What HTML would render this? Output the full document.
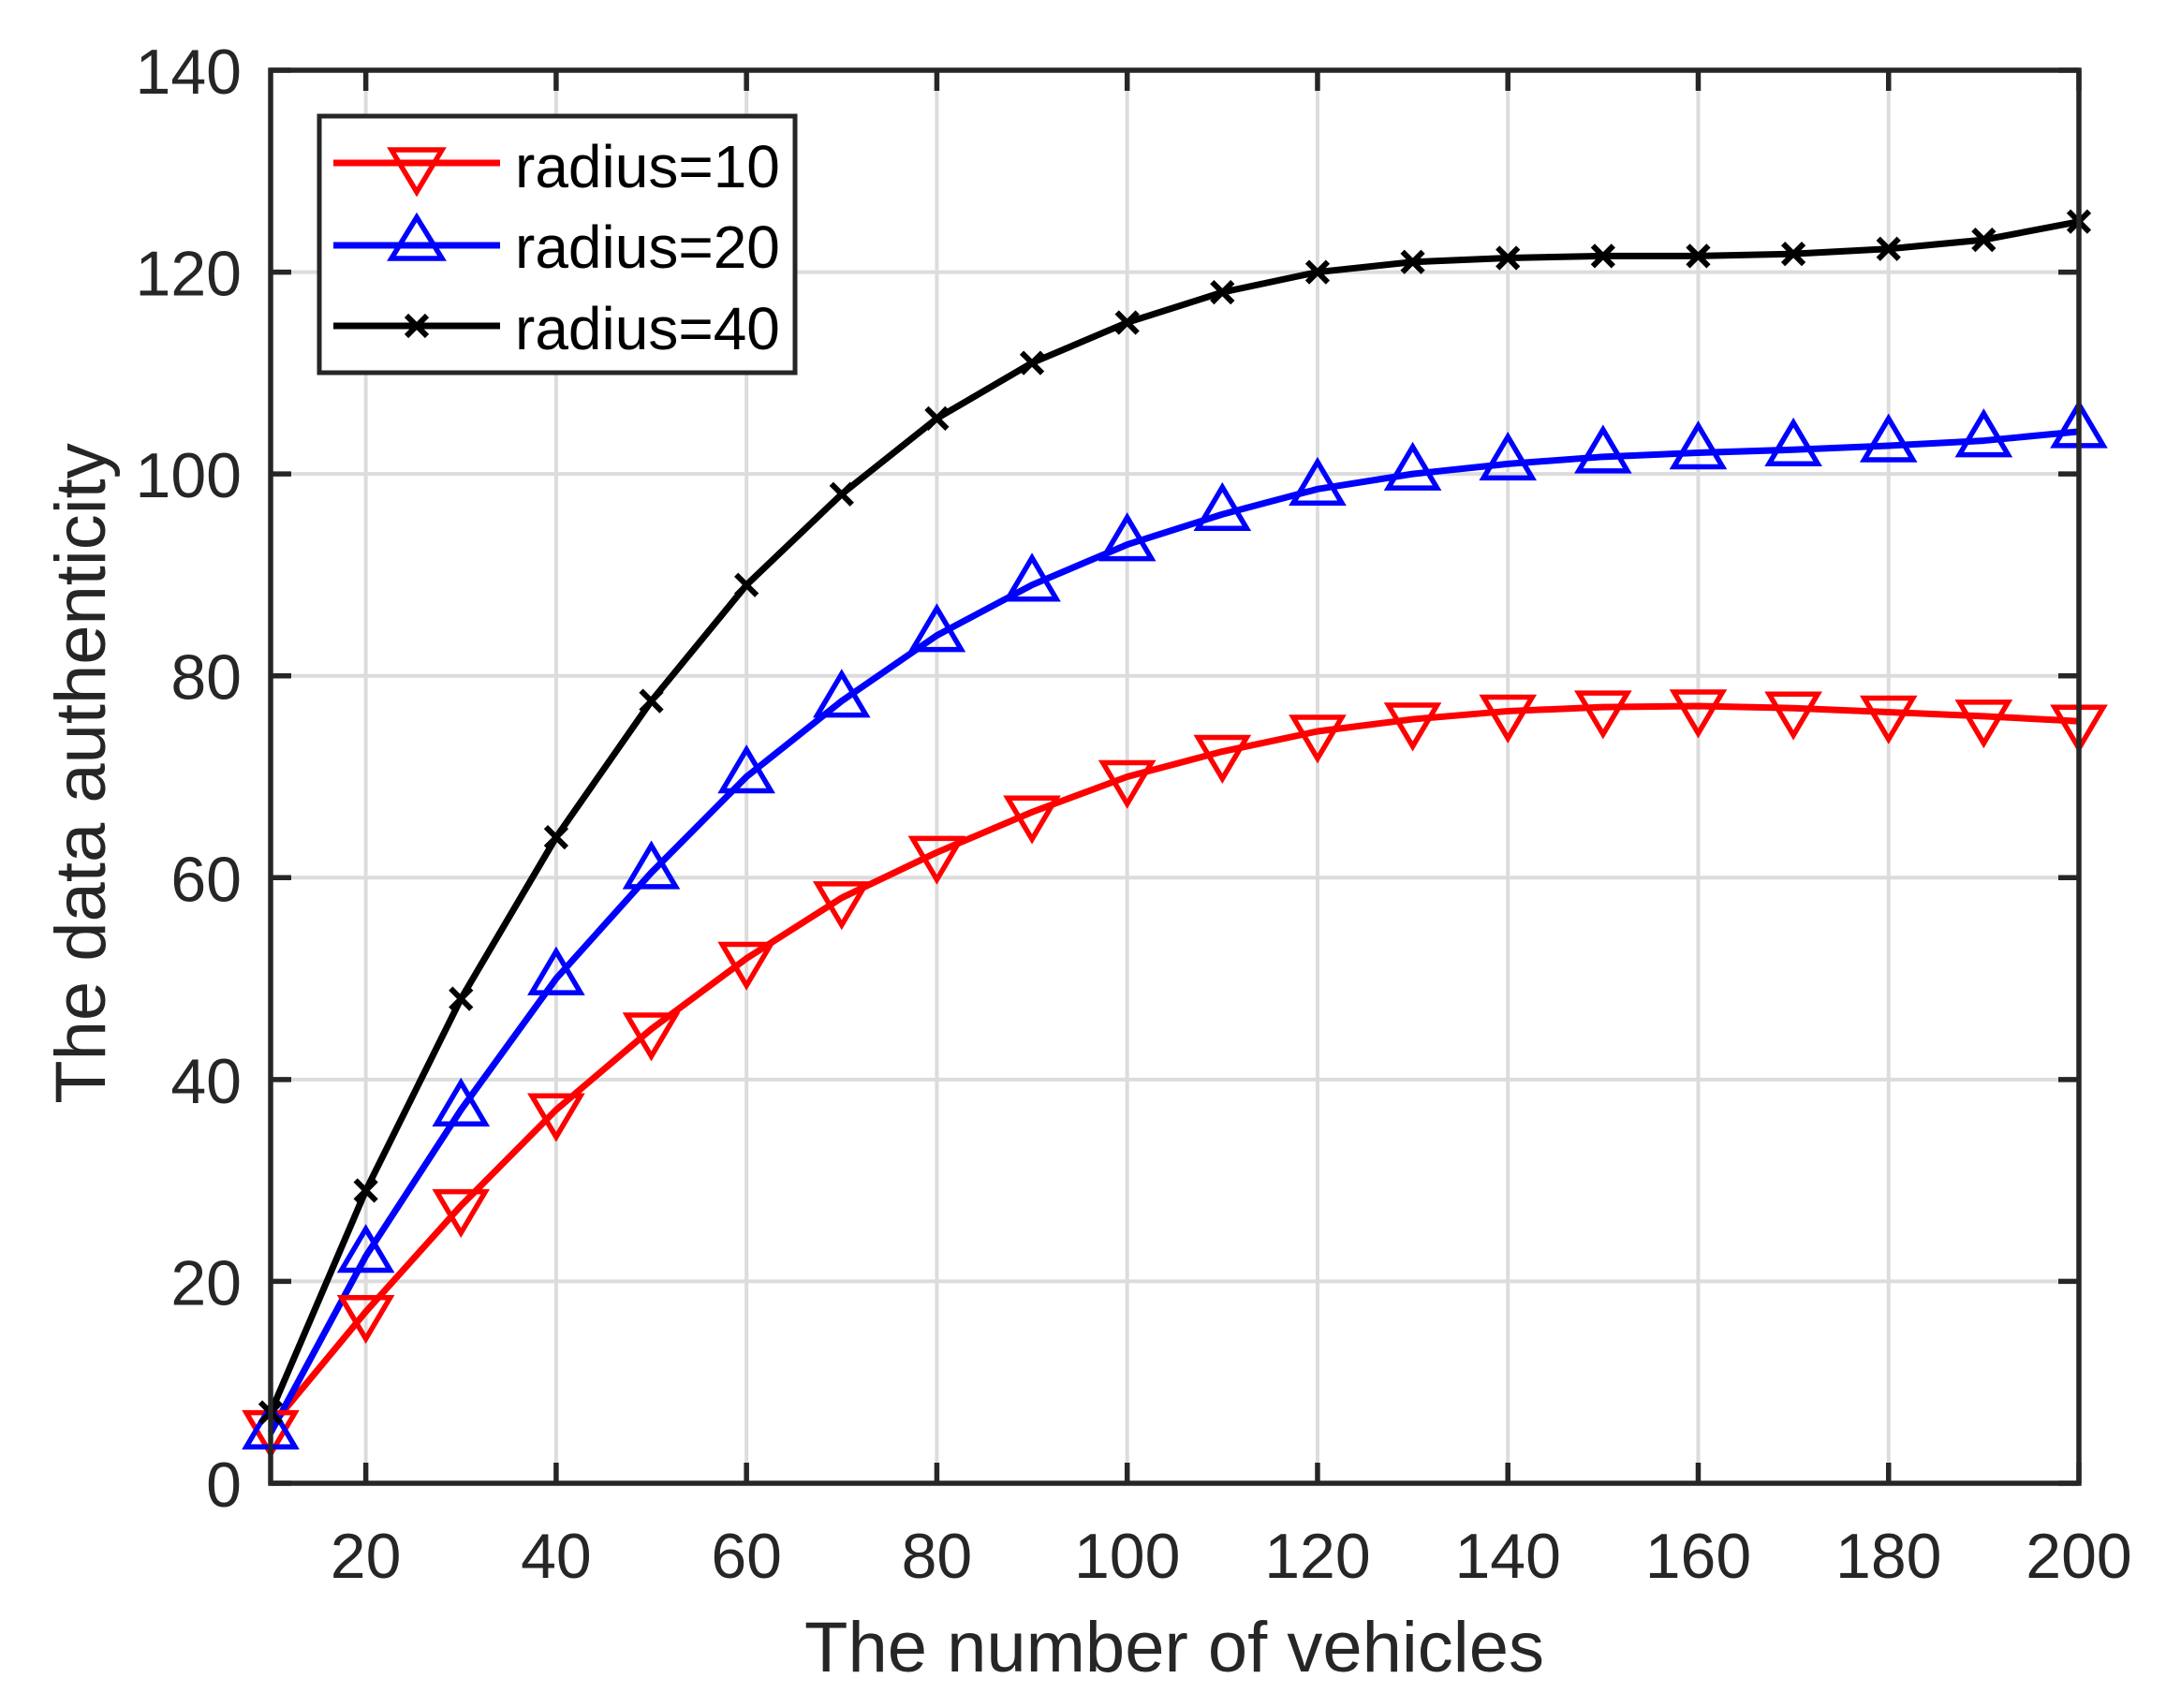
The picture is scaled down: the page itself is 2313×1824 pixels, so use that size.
<!DOCTYPE html>
<html><head><meta charset="utf-8"><style>
html,body{margin:0;padding:0;background:#fff;}
svg{display:block;}
text{font-family:"Liberation Sans",Arial,sans-serif;fill:#262626;}
</style></head><body>
<svg id="s" width="2313" height="1824" xmlns="http://www.w3.org/2000/svg">
<rect width="2313" height="1824" fill="#fff"/>
<g id="grid" stroke="#dcdcdc" stroke-width="4"></g>
<g id="series"></g>
<g id="axes"></g>
<g id="legend">
<rect x="341" y="124" width="508" height="274" fill="#fff" stroke="#262626" stroke-width="5"/>
<line x1="356" y1="174" x2="534" y2="174" stroke="#ff0000" stroke-width="7"/>
<polygon points="418,160 472,160 445,205" fill="none" stroke="#ff0000" stroke-width="5.5"/>
<line x1="356" y1="262" x2="534" y2="262" stroke="#0000ff" stroke-width="7"/>
<polygon points="418,276 472,276 445,232" fill="none" stroke="#0000ff" stroke-width="5.5"/>
<line x1="356" y1="348" x2="534" y2="348" stroke="#000" stroke-width="7"/>
<path d="M434,337 L456,359 M456,337 L434,359" stroke="#000" stroke-width="6"/>
<text x="550" y="200" font-size="64" style="fill:#000">radius=10</text>
<text x="550" y="286" font-size="64" style="fill:#000">radius=20</text>
<text x="550" y="373" font-size="64" style="fill:#000">radius=40</text>
</g>
<text x="1254" y="1785" font-size="76" text-anchor="middle">The number of vehicles</text>
<text transform="translate(112,826) rotate(-90)" font-size="76" text-anchor="middle">The data authenticity</text>
</svg>
<script>
var NS="http://www.w3.org/2000/svg";
function X(v){return 289+(v-10)*(2220-289)/190;}
function Y(v){return 1584-v*(1584-75)/140;}
function el(p,t,a,txt){var e=document.createElementNS(NS,t);for(var k in a)e.setAttribute(k,a[k]);if(txt!==undefined)e.textContent=txt;document.getElementById(p).appendChild(e);return e;}
for(var v=20;v<=200;v+=20){el("grid","line",{x1:X(v),y1:75,x2:X(v),y2:1584});}
for(var v=20;v<=120;v+=20){el("grid","line",{x1:289,y1:Y(v),x2:2220,y2:Y(v)});}
el("axes","rect",{x:289,y:75,width:1931,height:1509,fill:"none",stroke:"#262626","stroke-width":5.5});
for(var v=20;v<=200;v+=20){
 el("axes","line",{x1:X(v),y1:1584,x2:X(v),y2:1562,stroke:"#262626","stroke-width":5.5});
 el("axes","line",{x1:X(v),y1:75,x2:X(v),y2:97,stroke:"#262626","stroke-width":5.5});
 el("axes","text",{x:X(v),y:1685,"font-size":68,"text-anchor":"middle"},String(v));
}
for(var v=0;v<=140;v+=20){
 el("axes","line",{x1:289,y1:Y(v),x2:311,y2:Y(v),stroke:"#262626","stroke-width":5.5});
 el("axes","line",{x1:2220,y1:Y(v),x2:2198,y2:Y(v),stroke:"#262626","stroke-width":5.5});
 el("axes","text",{x:258,y:Y(v)+25,"font-size":68,"text-anchor":"end"},String(v));
}
var xs=[];for(var i=10;i<=200;i+=10)xs.push(i);
var red=[5.6,17,27.5,37,45,52,58,62.5,66.5,70,72.5,74.5,75.7,76.5,76.9,77,76.8,76.4,76,75.5];
var blue=[5,22.5,37,50,60.5,70,77.5,84,89,93,96,98.5,100,101,101.7,102.1,102.4,102.8,103.3,104.2];
var black=[7,29,48,64,77.5,89,98,105.5,111,115,118,120,121,121.4,121.6,121.6,121.8,122.3,123.2,125];
function line(d,c){var p=d.map(function(v,i){return X(xs[i])+","+Y(v);}).join(" ");
 el("series","polyline",{points:p,fill:"none",stroke:c,"stroke-width":7,"stroke-linejoin":"round"});}
line(red,"#ff0000");line(blue,"#0000ff");line(black,"#000000");
red.forEach(function(v,i){var x=X(xs[i]),y=Y(v);
 el("series","polygon",{points:(x-26)+","+(y-15)+" "+(x+26)+","+(y-15)+" "+x+","+(y+29),fill:"none",stroke:"#ff0000","stroke-width":5.5});});
blue.forEach(function(v,i){var x=X(xs[i]),y=Y(v);
 el("series","polygon",{points:(x-26)+","+(y+15)+" "+(x+26)+","+(y+15)+" "+x+","+(y-29),fill:"none",stroke:"#0000ff","stroke-width":5.5});});
black.forEach(function(v,i){var x=X(xs[i]),y=Y(v);
 el("series","path",{d:"M"+(x-11)+","+(y-11)+" L"+(x+11)+","+(y+11)+" M"+(x+11)+","+(y-11)+" L"+(x-11)+","+(y+11),stroke:"#000","stroke-width":6});});
</script>
</body></html>
